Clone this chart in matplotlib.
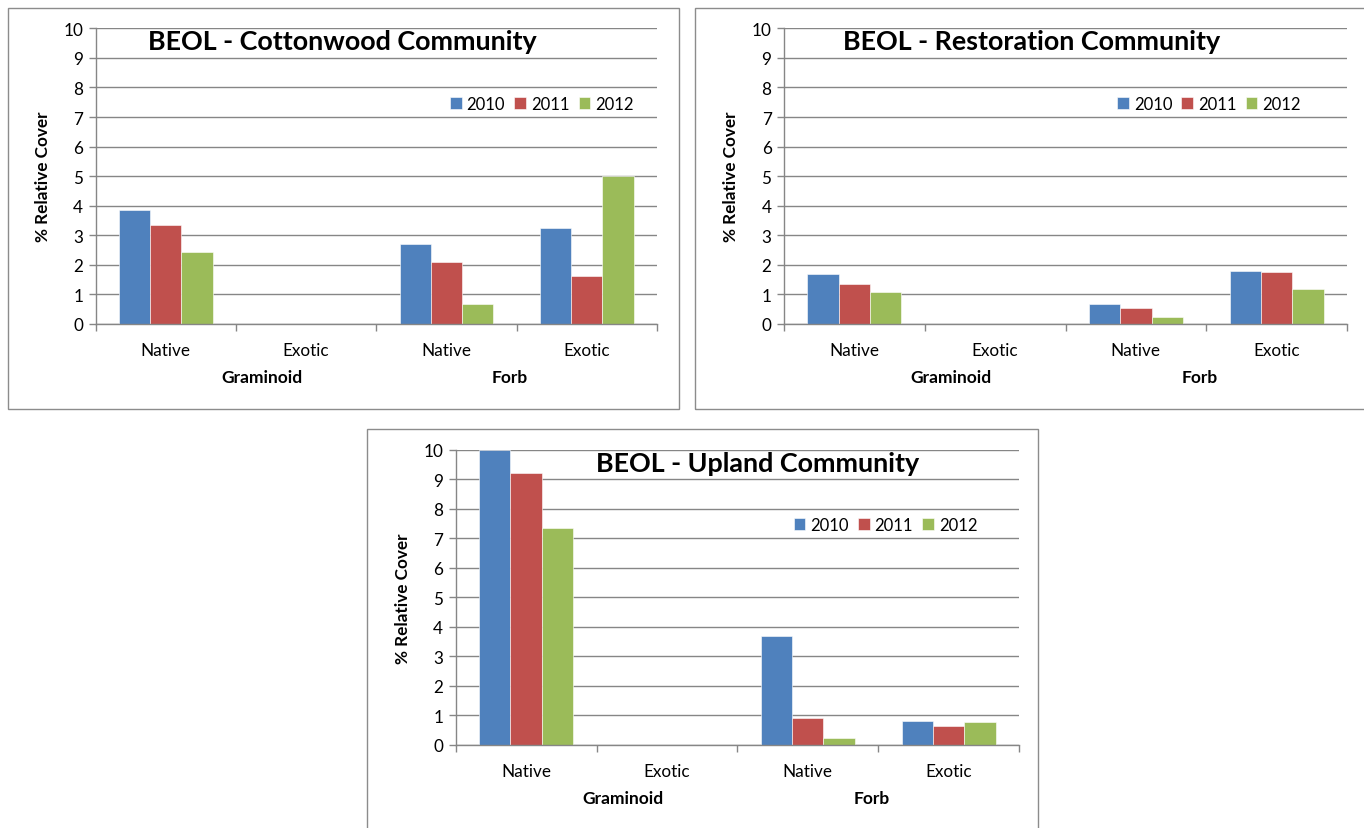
import numpy as np
from matplotlib import pyplot as plt
from matplotlib.patches import Rectangle

plt.rcParams['font.family'] = ['Lato', 'DejaVu Sans']

categories = ['Native', 'Exotic', 'Native', 'Exotic']
groups = ['Graminoid', 'Forb']
years = ['2010', '2011', '2012']
colors = ['#4F81BD', '#C0504D', '#9BBB59']

# % relative cover, rows = years, cols = categories
cottonwood = [
    [3.86, 0.0, 2.72, 3.23],
    [3.35, 0.0, 2.11, 1.61],
    [2.43, 0.0, 0.68, 5.00],
]
restoration = [
    [1.69, 0.0, 0.66, 1.79],
    [1.35, 0.0, 0.54, 1.76],
    [1.08, 0.0, 0.23, 1.19],
]
upland = [
    [10.0, 0.0, 3.69, 0.82],
    [9.21, 0.0, 0.93, 0.63],
    [7.35, 0.0, 0.23, 0.79],
]

W, H = 1364, 829


def px_rect(x0, y0, x1, y1):
    # pixel box (top-left origin) -> figure fraction rect
    return [x0 / W, 1 - y1 / H, (x1 - x0) / W, (y1 - y0) / H]


def drawChart(fig, rect, data, title, titleX, legendX):
    ax = fig.add_axes(rect)
    x = np.arange(len(categories))
    bw = 1 / 4.5
    for i, (year, color) in enumerate(zip(years, colors)):
        ax.bar(x + (i - 1) * bw, data[i], width=bw, color=color,
               edgecolor='white', linewidth=0.4, label=year, zorder=3)

    ax.set_xlim(-0.5, len(categories) - 0.5)
    ax.set_ylim(0, 10)
    ax.set_yticks(range(0, 11))
    ax.set_xticks(x)
    ax.set_xticklabels(categories)
    ax.set_xticks(np.arange(-0.5, len(categories)), minor=True)
    ax.tick_params(axis='x', which='major', length=0, pad=13, labelsize=12.3)
    ax.tick_params(axis='x', which='minor', length=5, color='#868686', width=1)
    ax.tick_params(axis='y', length=5, color='#868686', width=1, labelsize=12.3, pad=4)

    ax.grid(axis='y', color='#868686', linewidth=1, zorder=0)
    for side in ['top', 'right']:
        ax.spines[side].set_visible(False)
    for side in ['left', 'bottom']:
        ax.spines[side].set_color('#868686')
        ax.spines[side].set_linewidth(1)
    ax.spines['bottom'].set_zorder(4)

    ax.set_ylabel('% Relative Cover', fontweight='bold', fontsize=12.3, labelpad=9)

    ax.text(titleX, 0.956, title, transform=ax.transAxes, ha='center', va='center',
            fontsize=19.4, fontweight='bold')

    ax.text(0.297, -0.178, groups[0], transform=ax.transAxes, ha='center', va='center',
            fontsize=12.5, fontweight='bold')
    ax.text(0.738, -0.178, groups[1], transform=ax.transAxes, ha='center', va='center',
            fontsize=12.5, fontweight='bold')

    ax.legend(loc='center', bbox_to_anchor=(legendX, 0.745), ncol=3, frameon=False,
              fontsize=12, handlelength=0.7, handleheight=0.7, handletextpad=0.3,
              columnspacing=0.55, borderpad=0)
    return ax


fig = plt.figure(figsize=(W / 100, H / 100), dpi=100)

# chart borders
for x0, y0, x1, y1 in [(8, 9, 679, 410), (695, 9, 1366, 410), (367, 430, 1038, 832)]:
    fig.add_artist(Rectangle((x0 / W, 1 - y1 / H), (x1 - x0) / W, (y1 - y0) / H,
                             transform=fig.transFigure, fill=False,
                             edgecolor='#8C8C8C', linewidth=1))

drawChart(fig, px_rect(95.7, 29.3, 657, 325), cottonwood,
          'BEOL - Cottonwood Community', 0.44, 0.795)
drawChart(fig, px_rect(784, 29.3, 1347, 325), restoration,
          'BEOL - Restoration Community', 0.44, 0.755)
drawChart(fig, px_rect(455.7, 450.7, 1019, 746), upland,
          'BEOL - Upland Community', 0.535, 0.763)

fig.savefig('out.png', dpi=100)
